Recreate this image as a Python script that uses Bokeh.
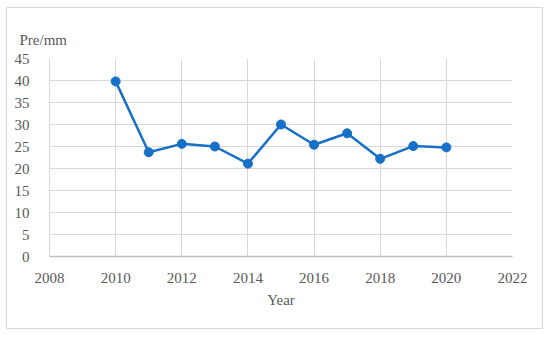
from bokeh.plotting import figure
from bokeh.models import Range1d, FixedTicker, Title, InlineStyleSheet
from bokeh.embed import file_html
from bokeh.resources import INLINE

years = [2010, 2011, 2012, 2013, 2014, 2015, 2016, 2017, 2018, 2019, 2020]
pre_mm = [39.8, 23.7, 25.6, 25.0, 21.1, 30.0, 25.4, 28.0, 22.2, 25.1, 24.8]
x_ticks = [2008, 2010, 2012, 2014, 2016, 2018, 2020, 2022]
y_ticks = [0, 5, 10, 15, 20, 25, 30, 35, 40, 45]

FONT = "Liberation Serif"
TXT = "#595959"
BLUE = "#1670c8"

p = figure(width=550, height=337, output_backend="svg", toolbar_location=None,
           x_range=Range1d(2008, 2022), y_range=Range1d(0, 45),
           min_border_left=49, min_border_right=38, min_border_top=58, min_border_bottom=81)
p.stylesheets = [InlineStyleSheet(css="""
:host { position: relative; }
:host::after {
  content: ""; position: absolute; left: 6px; top: 7px; width: 535px; height: 320px;
  border: 1.5px solid #d9d9d9; pointer-events: none; z-index: 1000;
}
""")]
p.outline_line_color = None
p.background_fill_color = "white"
p.border_fill_color = "white"

p.xaxis.ticker = FixedTicker(ticks=x_ticks)
p.yaxis.ticker = FixedTicker(ticks=y_ticks)
for ax in (p.xaxis[0], p.yaxis[0]):
    ax.major_tick_line_color = None
    ax.minor_tick_line_color = None
    ax.major_label_text_font = FONT
    ax.major_label_text_font_size = "15px"
    ax.major_label_text_color = TXT
p.xaxis.axis_line_color = "#bfbfbf"
p.xaxis.axis_line_width = 1.5
p.yaxis.axis_line_color = "#d9d9d9"
p.xaxis.major_label_standoff = 10
p.yaxis.major_label_standoff = 14
p.xaxis.axis_label = "Year"
p.xaxis.axis_label_text_font = FONT
p.xaxis.axis_label_text_font_size = "15px"
p.xaxis.axis_label_text_font_style = "normal"
p.xaxis.axis_label_text_color = TXT
p.xaxis.axis_label_standoff = 6

p.xgrid.ticker = FixedTicker(ticks=x_ticks)
p.ygrid.ticker = FixedTicker(ticks=y_ticks)
p.grid.grid_line_color = "#d9d9d9"
p.grid.grid_line_width = 1

p.line(years, pre_mm, line_color=BLUE, line_width=2.5)
p.scatter(years, pre_mm, size=9, fill_color=BLUE, line_color=BLUE)

p.add_layout(Title(text="Pre/mm", align="left", offset=-30, standoff=21,
                   text_font=FONT, text_font_size="15px", text_font_style="normal",
                   text_color=TXT), "above")

open("out.html", "w").write(file_html(p, INLINE))
